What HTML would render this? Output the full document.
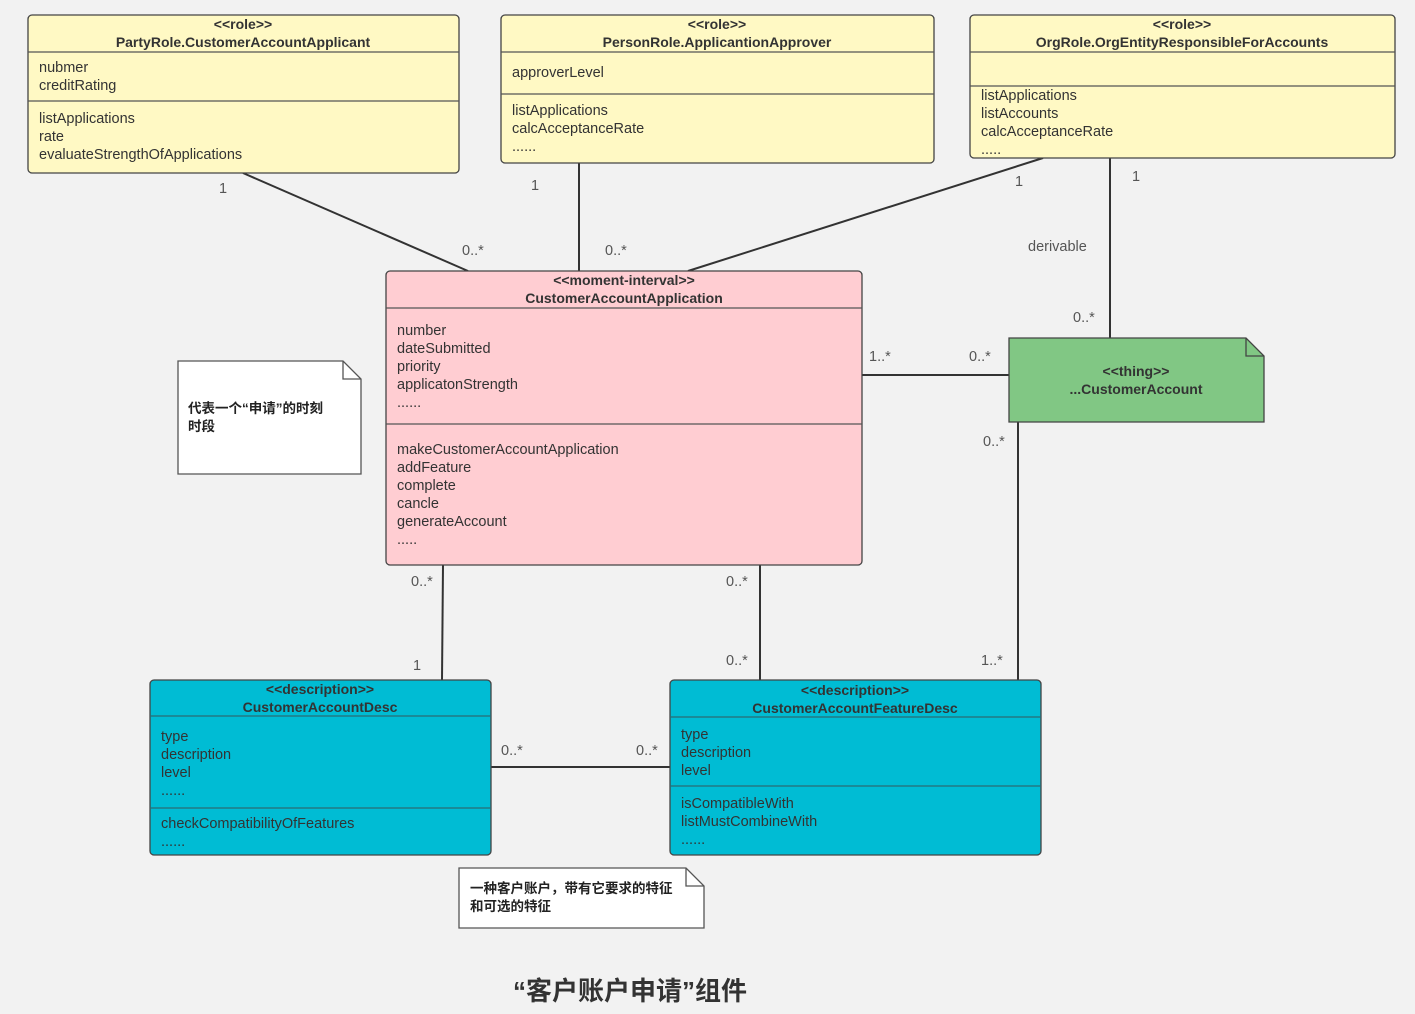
<!DOCTYPE html>
<html><head><meta charset="utf-8"><style>
html,body{margin:0;padding:0;background:#f2f2f2;}
svg{display:block;}
text{font-family:"Liberation Sans","Noto Sans CJK SC",sans-serif;fill:#333;font-size:14.5px;}
.b{font-weight:bold;font-size:14px;}
.c{text-anchor:middle;}
.m{fill:#555;font-size:14.5px;}
.n{font-family:"Liberation Sans","Noto Sans CJK SC",sans-serif;font-size:13.5px;font-weight:bold;fill:#222;}
</style></head><body>
<svg width="1415" height="1014" viewBox="0 0 1415 1014" xmlns="http://www.w3.org/2000/svg">
<g stroke="#333" stroke-width="2" fill="none">
<line x1="243" y1="173" x2="468" y2="271"/>
<line x1="579" y1="163" x2="579" y2="271"/>
<line x1="1043" y1="158" x2="688" y2="271"/>
<line x1="1110" y1="158" x2="1110" y2="338"/>
<line x1="862" y1="375" x2="1009" y2="375"/>
<line x1="443" y1="565" x2="442" y2="680"/>
<line x1="760" y1="565" x2="760" y2="680"/>
<line x1="1018" y1="422" x2="1018" y2="680"/>
<line x1="491" y1="767" x2="670" y2="767"/>
</g>
<!-- Box1 -->
<rect x="28" y="15" width="431" height="158" rx="4" fill="#fff9c4" stroke="#444" stroke-width="1.3"/>
<line x1="28" y1="52" x2="459" y2="52" stroke="#555" stroke-width="1.3"/>
<line x1="28" y1="101" x2="459" y2="101" stroke="#555" stroke-width="1.3"/>
<text class="b c" x="243" y="29">&lt;&lt;role&gt;&gt;</text>
<text class="b c" x="243" y="47">PartyRole.CustomerAccountApplicant</text>
<text x="39" y="72">nubmer</text><text x="39" y="90">creditRating</text>
<text x="39" y="123">listApplications</text><text x="39" y="141">rate</text><text x="39" y="159">evaluateStrengthOfApplications</text>
<!-- Box2 -->
<rect x="501" y="15" width="433" height="148" rx="4" fill="#fff9c4" stroke="#444" stroke-width="1.3"/>
<line x1="501" y1="52" x2="934" y2="52" stroke="#555" stroke-width="1.3"/>
<line x1="501" y1="94" x2="934" y2="94" stroke="#555" stroke-width="1.3"/>
<text class="b c" x="717" y="29">&lt;&lt;role&gt;&gt;</text>
<text class="b c" x="717" y="47">PersonRole.ApplicantionApprover</text>
<text x="512" y="77">approverLevel</text>
<text x="512" y="115">listApplications</text><text x="512" y="133">calcAcceptanceRate</text><text x="512" y="151">......</text>
<!-- Box3 -->
<rect x="970" y="15" width="425" height="143" rx="4" fill="#fff9c4" stroke="#444" stroke-width="1.3"/>
<line x1="970" y1="52" x2="1395" y2="52" stroke="#555" stroke-width="1.3"/>
<line x1="970" y1="86" x2="1395" y2="86" stroke="#555" stroke-width="1.3"/>
<text class="b c" x="1182" y="29">&lt;&lt;role&gt;&gt;</text>
<text class="b c" x="1182" y="47">OrgRole.OrgEntityResponsibleForAccounts</text>
<text x="981" y="100">listApplications</text><text x="981" y="118">listAccounts</text><text x="981" y="136">calcAcceptanceRate</text><text x="981" y="154">.....</text>
<!-- Pink -->
<rect x="386" y="271" width="476" height="294" rx="4" fill="#ffcdd2" stroke="#444" stroke-width="1.3"/>
<line x1="386" y1="308" x2="862" y2="308" stroke="#555" stroke-width="1.3"/>
<line x1="386" y1="424" x2="862" y2="424" stroke="#555" stroke-width="1.3"/>
<text class="b c" x="624" y="285">&lt;&lt;moment-interval&gt;&gt;</text>
<text class="b c" x="624" y="303">CustomerAccountApplication</text>
<text x="397" y="335">number</text><text x="397" y="353">dateSubmitted</text><text x="397" y="371">priority</text><text x="397" y="389">applicatonStrength</text><text x="397" y="407">......</text>
<text x="397" y="454">makeCustomerAccountApplication</text><text x="397" y="472">addFeature</text><text x="397" y="490">complete</text><text x="397" y="508">cancle</text><text x="397" y="526">generateAccount</text><text x="397" y="544">.....</text>
<!-- Green -->
<path d="M1009 338 H1246 L1264 356 V422 H1009 Z" fill="#81c784" stroke="#444" stroke-width="1.3"/>
<path d="M1246 338 V356 H1264" fill="none" stroke="#444" stroke-width="1.3"/>
<text class="b c" x="1136" y="376">&lt;&lt;thing&gt;&gt;</text>
<text class="b c" x="1136" y="394">...CustomerAccount</text>
<!-- Note1 -->
<path d="M178 361 H343 L361 379 V474 H178 Z" fill="#fff" stroke="#555" stroke-width="1.3"/>
<path d="M343 361 V379 H361" fill="none" stroke="#555" stroke-width="1.3"/>
<text class="n" x="188" y="413">代表一个“申请”的时刻</text>
<text class="n" x="188" y="431">时段</text>
<!-- Cyan1 -->
<rect x="150" y="680" width="341" height="175" rx="4" fill="#00bcd4" stroke="#444" stroke-width="1.3"/>
<line x1="150" y1="716" x2="491" y2="716" stroke="#2a6b75" stroke-width="1.3"/>
<line x1="150" y1="808" x2="491" y2="808" stroke="#2a6b75" stroke-width="1.3"/>
<text class="b c" x="320" y="694">&lt;&lt;description&gt;&gt;</text>
<text class="b c" x="320" y="712">CustomerAccountDesc</text>
<text x="161" y="741">type</text><text x="161" y="759">description</text><text x="161" y="777">level</text><text x="161" y="795">......</text>
<text x="161" y="828">checkCompatibilityOfFeatures</text><text x="161" y="846">......</text>
<!-- Cyan2 -->
<rect x="670" y="680" width="371" height="175" rx="4" fill="#00bcd4" stroke="#444" stroke-width="1.3"/>
<line x1="670" y1="717" x2="1041" y2="717" stroke="#2a6b75" stroke-width="1.3"/>
<line x1="670" y1="786" x2="1041" y2="786" stroke="#2a6b75" stroke-width="1.3"/>
<text class="b c" x="855" y="695">&lt;&lt;description&gt;&gt;</text>
<text class="b c" x="855" y="713">CustomerAccountFeatureDesc</text>
<text x="681" y="739">type</text><text x="681" y="757">description</text><text x="681" y="775">level</text>
<text x="681" y="808">isCompatibleWith</text><text x="681" y="826">listMustCombineWith</text><text x="681" y="844">......</text>
<!-- Note2 -->
<path d="M459 868 H686 L704 886 V928 H459 Z" fill="#fff" stroke="#555" stroke-width="1.3"/>
<path d="M686 868 V886 H704" fill="none" stroke="#555" stroke-width="1.3"/>
<text class="n" x="470" y="893">一种客户账户，带有它要求的特征</text>
<text class="n" x="470" y="911">和可选的特征</text>
<!-- labels -->
<text class="m" x="219" y="193">1</text>
<text class="m" x="462" y="255">0..*</text>
<text class="m" x="531" y="190">1</text>
<text class="m" x="605" y="255">0..*</text>
<text class="m" x="1015" y="186">1</text>
<text class="m" x="1132" y="181">1</text>
<text class="m" x="1028" y="251">derivable</text>
<text class="m" x="1073" y="322">0..*</text>
<text class="m" x="869" y="361">1..*</text>
<text class="m" x="969" y="361">0..*</text>
<text class="m" x="983" y="446">0..*</text>
<text class="m" x="981" y="665">1..*</text>
<text class="m" x="411" y="586">0..*</text>
<text class="m" x="726" y="586">0..*</text>
<text class="m" x="413" y="670">1</text>
<text class="m" x="726" y="665">0..*</text>
<text class="m" x="501" y="755">0..*</text>
<text class="m" x="636" y="755">0..*</text>
<text x="630" y="1000" style="font-size:26px;font-weight:bold;fill:#333;text-anchor:middle">“客户账户申请”组件</text>
</svg>
</body></html>
